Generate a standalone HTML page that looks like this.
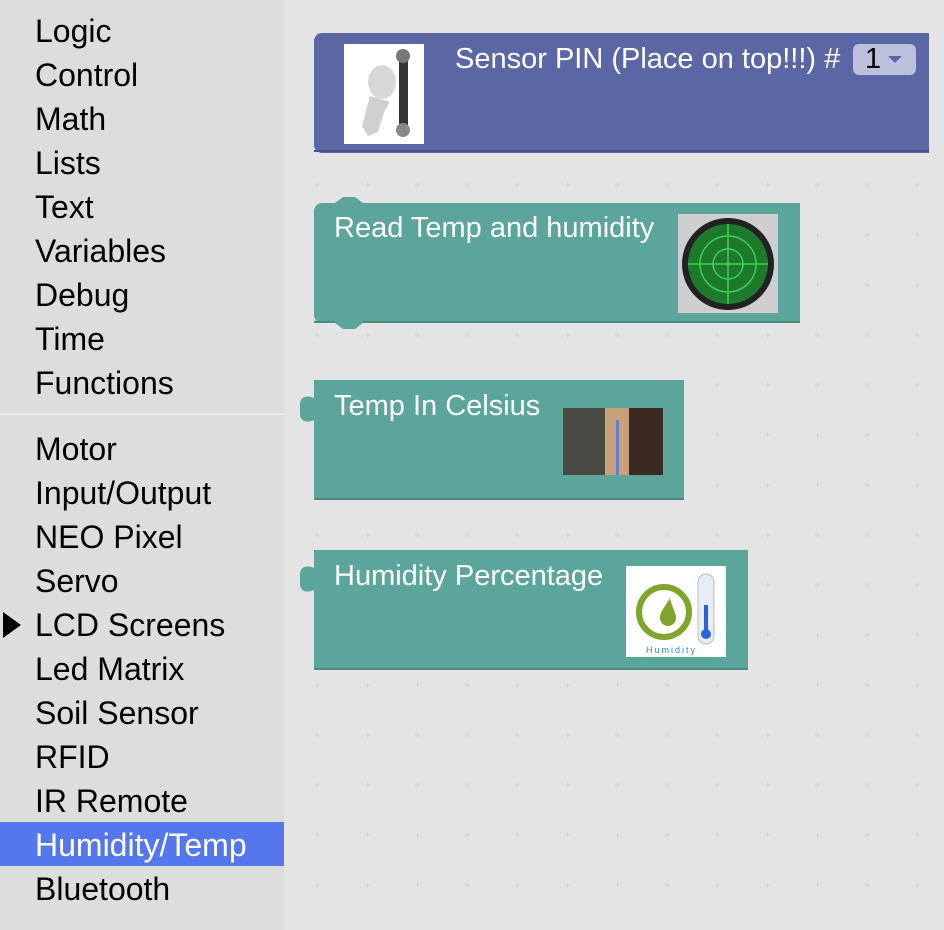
<!DOCTYPE html>
<html><head><meta charset="utf-8"><style>
body{margin:0;width:944px;height:930px;overflow:hidden;background:#e4e4e4;font-family:"Liberation Sans",Arial,sans-serif;position:relative}
#side{position:absolute;left:0;top:0;width:284px;height:930px;background:#dddddd}
.it{position:absolute;left:35px;height:44px;line-height:44px;font-size:32px;color:#000;white-space:nowrap}
.sel{position:absolute;left:0;top:822px;width:284px;height:44px;background:#5577ee}
.sep{position:absolute;left:0;top:413px;width:284px;height:2px;background:#ececec}
.bt{position:absolute;color:#fff;font-size:29px;white-space:nowrap;line-height:32px}
svg{position:absolute;left:0;top:0}
</style></head><body>
<svg width="944" height="930">
<defs><pattern id="g" x="0" y="0" width="50" height="50" patternUnits="userSpaceOnUse">
<path d="M15 35h5M17.5 32.5v5" stroke="#d2d2d2" stroke-width="1"/></pattern></defs>
<rect x="284" y="0" width="660" height="930" fill="url(#g)"/>
<path d="M322 33H929V153H322a8 8 0 0 1-8-8V41a8 8 0 0 1 8-8z" fill="#5b67a5"/>
<path d="M314 151H929" stroke="#48528a" stroke-width="2"/>
<rect x="344" y="44" width="80" height="100" fill="#fff"/>
<ellipse cx="382" cy="82" rx="14" ry="17" fill="#d8d8d8"/>
<path d="M370 96l-8 30 6 10 10-4 6-20 6-10z" fill="#d0d0d0"/>
<rect x="399" y="54" width="9" height="76" rx="3" fill="#333"/>
<circle cx="403" cy="56" r="7" fill="#777"/><circle cx="403" cy="130" r="7" fill="#888"/>
<rect x="853" y="44" width="63" height="31" rx="6" fill="#bcc0dc"/>
<path d="M888 56h14l-7 7z" fill="#5b67a5"/>
<path d="M322 203H335l8 -6h12l8 6H800V323H363l-8 6h-12l-8-6H322a8 8 0 0 1-8-8V211a8 8 0 0 1 8-8z" fill="#5ba59a"/>
<path d="M314 322H335M363 322H800" stroke="#4a8b81" stroke-width="2"/>
<rect x="678" y="214" width="100" height="99" fill="#cfcfcf"/>
<circle cx="728" cy="264" r="46" fill="#222"/>
<circle cx="728" cy="264" r="40" fill="#1c7a2a"/>
<circle cx="728" cy="264" r="28" fill="none" stroke="#3ed054" stroke-width="1.5"/>
<circle cx="728" cy="264" r="15" fill="none" stroke="#3ed054" stroke-width="1.5"/>
<path d="M688 264h80M728 224v80" stroke="#3ed054" stroke-width="1.5"/>
<path d="M314 380H684V500H314V420c-6 3-14 2-14-6v-10c0-8 8-9 14-6z" fill="#5ba59a"/>
<path d="M314 499H684" stroke="#4a8b81" stroke-width="2"/>
<rect x="563" y="408" width="100" height="67" fill="#4a4a45"/>
<rect x="605" y="408" width="24" height="67" fill="#c8a07a"/>
<rect x="616" y="420" width="3" height="55" fill="#6a7cd0"/>
<rect x="629" y="408" width="34" height="67" fill="#3a2a22"/>
<path d="M314 550H748V670H314V590c-6 3-14 2-14-6v-10c0-8 8-9 14-6z" fill="#5ba59a"/>
<path d="M314 669H748" stroke="#4a8b81" stroke-width="2"/>
<rect x="626" y="566" width="100" height="91" fill="#fff"/>
<circle cx="664" cy="612" r="25" fill="none" stroke="#7da62a" stroke-width="6"/>
<path d="M670 598c-6 10-10 14-10 20a8 8 0 0 0 16 0c0-6-4-10-6-20z" fill="#7da62a"/>
<rect x="698" y="574" width="16" height="70" rx="8" fill="#e8ecf4" stroke="#bbb"/>
<rect x="704" y="605" width="4" height="30" fill="#2e63d8"/><circle cx="706" cy="634" r="5" fill="#2e63d8"/>
<text x="646" y="653" font-size="9" fill="#2a8ad0" font-family="Liberation Sans" letter-spacing="2">Humidity</text>
<path d="M3 612L21 625L3 638z" fill="#000"/>
</svg>
<div id="side" style="z-index:-1"></div>
<div class="sep"></div>
<div class="sel"></div>
<div class="it" style="top:9px">Logic</div>
<div class="it" style="top:53px">Control</div>
<div class="it" style="top:97px">Math</div>
<div class="it" style="top:141px">Lists</div>
<div class="it" style="top:185px">Text</div>
<div class="it" style="top:229px">Variables</div>
<div class="it" style="top:273px">Debug</div>
<div class="it" style="top:317px">Time</div>
<div class="it" style="top:361px">Functions</div>
<div class="it" style="top:427px">Motor</div>
<div class="it" style="top:471px">Input/Output</div>
<div class="it" style="top:515px">NEO Pixel</div>
<div class="it" style="top:559px">Servo</div>
<div class="it" style="top:603px">LCD Screens</div>
<div class="it" style="top:647px">Led Matrix</div>
<div class="it" style="top:691px">Soil Sensor</div>
<div class="it" style="top:735px">RFID</div>
<div class="it" style="top:779px">IR Remote</div>
<div class="it" style="top:823px;color:#fff">Humidity/Temp</div>
<div class="it" style="top:867px">Bluetooth</div>
<div class="bt" style="left:455px;top:43px">Sensor PIN (Place on top!!!) #</div>
<div class="bt" style="left:865px;top:43px;color:#000">1</div>
<div class="bt" style="left:334px;top:212px">Read Temp and humidity</div>
<div class="bt" style="left:334px;top:390px">Temp In Celsius</div>
<div class="bt" style="left:334px;top:560px">Humidity Percentage</div>
</body></html>
